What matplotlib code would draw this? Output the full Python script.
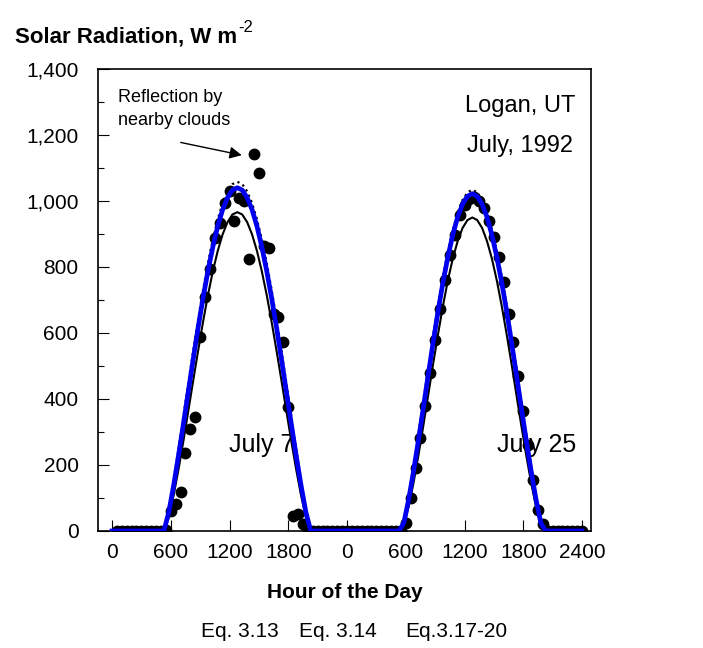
import matplotlib
matplotlib.use('Agg')
import matplotlib.pyplot as plt
from matplotlib.ticker import FuncFormatter, MultipleLocator

plt.rcParams['font.family'] = ['Liberation Sans', 'DejaVu Sans']

# measured radiation, half-hourly (hour of day x 100)
OBS_T = [50, 100, 150, 200, 250, 300, 350, 400, 450, 500,
         550, 600, 650, 700, 750, 800, 850, 900, 950, 1000,
         1050, 1100, 1150, 1200, 1250, 1300, 1350, 1400, 1450, 1500,
         1550, 1600, 1650, 1700, 1750, 1800, 1850, 1900, 1950, 2000,
         2050, 2100, 2150, 2200, 2250, 2300, 2350, 2400]
OBS_JUL7 = [0, 0, 0, 0, 0, 0, 0, 0, 0, 0,
            3, 62, 82, 118, 235, 310, 345, 587, 709, 794,
            888, 932, 994, 1030, 940, 1010, 1001, 824, 1142, 1085,
            862, 856, 658, 648, 572, 375, 45, 52, 20, 0,
            0, 0, 0, 0, 0, 0, 0, 0]
OBS_JUL25 = [0, 0, 0, 0, 0, 0, 0, 0, 0, 0,
             0, 25, 99, 190, 282, 380, 480, 578, 673, 759,
             835, 898, 956, 989, 1006, 1012, 1000, 980, 940, 890,
             830, 754, 658, 572, 470, 365, 262, 155, 65, 22,
             0, 0, 0, 0, 0, 0, 0, 0]

# model curves
CURVE_T = [0, 530, 580, 630, 680, 730, 780, 830, 880, 930, 980, 1030, 1080, 1130,
           1180, 1230, 1280, 1330, 1380, 1430, 1480, 1530, 1580, 1630, 1680, 1730,
           1780, 1830, 1880, 1930, 1980, 2030, 2400]
EQ313_JUL7 = [0, 0, 41, 109, 188, 274, 365, 457, 547, 634, 715, 787, 849, 899, 936, 959,
              966, 959, 936, 899, 849, 787, 715, 634, 547, 457, 365, 274, 188, 109, 41, 0, 0]
EQ314_JUL7 = [0, 0, 66, 155, 250, 349, 449, 547, 642, 731, 812, 884, 945, 994, 1029, 1051,
              1058, 1051, 1029, 994, 945, 884, 812, 731, 642, 547, 449, 349, 250, 155, 66, 0, 0]
EQ317_JUL7 = [0, 0, 57, 139, 230, 326, 424, 522, 617, 706, 788, 861, 924, 974, 1010, 1033,
              1040, 1033, 1010, 974, 924, 861, 788, 706, 617, 522, 424, 326, 230, 139, 57, 0, 0]
EQ313_JUL25 = [0, 0, 17, 74, 147, 230, 320, 413, 507, 597, 682, 759, 825, 878, 918, 942,
               950, 942, 918, 878, 825, 759, 682, 597, 507, 413, 320, 230, 147, 74, 17, 0, 0]
EQ314_JUL25 = [0, 0, 29, 107, 197, 294, 394, 495, 593, 686, 771, 847, 912, 965, 1003, 1026,
               1034, 1026, 1003, 965, 912, 847, 771, 686, 593, 495, 394, 294, 197, 107, 29, 0, 0]
EQ317_JUL25 = [0, 0, 24, 96, 182, 276, 374, 474, 572, 666, 753, 830, 897, 951, 990, 1014,
               1022, 1014, 990, 951, 897, 830, 753, 666, 572, 474, 374, 276, 182, 96, 24, 0, 0]

DAY_OFFSET = {'July 7': 0, 'July 25': 2400}
XTICK_POS = [0, 600, 1200, 1800, 2400, 3000, 3600, 4200, 4800]
XTICK_LABELS = ['0', '600', '1200', '1800', '0', '600', '1200', '1800', '2400']
LEGEND_LABELS = ['Eq. 3.13', 'Eq. 3.14', 'Eq.3.17-20']

fig = plt.figure(figsize=(7.03, 6.48), dpi=100)
ax = fig.add_axes([0.1394, 0.1806, 0.7013, 0.713])

days = [('July 7', OBS_JUL7, EQ313_JUL7, EQ314_JUL7, EQ317_JUL7),
        ('July 25', OBS_JUL25, EQ313_JUL25, EQ314_JUL25, EQ317_JUL25)]
for name, obs, e13, e14, e17 in days:
    off = DAY_OFFSET[name]
    ax.plot([t + off for t in OBS_T], obs, 'o', color='black', ms=7.5, zorder=2)
    ct = [t + off for t in CURVE_T]
    ax.plot(ct, e13, '-', color='black', lw=1.5, zorder=3)
    ax.plot(ct, e14, ':', color='black', lw=1.6, zorder=4)
    ax.plot(ct, e17, '-', color='#0000ee', lw=3.4, zorder=5)

ax.set_xlim(-143, 4892)
ax.set_ylim(0, 1400)
ax.set_xticks(XTICK_POS)
ax.set_xticklabels(XTICK_LABELS)
ax.set_yticks(range(0, 1401, 200))
ax.yaxis.set_major_formatter(FuncFormatter(lambda v, p: f'{int(v):,}'))
ax.yaxis.set_minor_locator(MultipleLocator(100))
ax.tick_params(axis='both', which='major', direction='in', length=8, width=0.8,
               labelsize=15, top=False, right=False)
ax.tick_params(axis='x', pad=9)
ax.tick_params(axis='y', pad=14)
ax.tick_params(axis='y', which='minor', direction='in', length=4, width=0.8)
for s in ax.spines.values():
    s.set_linewidth(1.2)

ax.set_xlabel('Hour of the Day', fontsize=15, fontweight='bold', labelpad=15)

# title with a plain hyphen in the superscript
title = fig.text(0.021, 0.934, 'Solar Radiation, W m', fontsize=16,
                 fontweight='bold', va='baseline', ha='left')
fig.canvas.draw()
bb = title.get_window_extent(fig.canvas.get_renderer())
fig.text(bb.x1 / fig.bbox.width + 0.002, 0.951, '-2', fontsize=12,
         va='baseline', ha='left')

ax.text(1532, 262, 'July 7', fontsize=18, ha='center', va='center')
ax.text(4340, 262, 'July 25', fontsize=18, ha='center', va='center')
ax.text(4170, 1288, 'Logan, UT', fontsize=17, ha='center', va='center')
ax.text(4170, 1167, 'July, 1992', fontsize=17, ha='center', va='center')
ax.text(61, 1312, 'Reflection by', fontsize=13, ha='left', va='center')
ax.text(61, 1243, 'nearby clouds', fontsize=13, ha='left', va='center')
ax.annotate('', xy=(1353, 1137), xytext=(674, 1179),
            arrowprops=dict(arrowstyle='-|>', mutation_scale=18, lw=1, color='black'))

for x, lab in zip([0.3414, 0.4808, 0.6486], LEGEND_LABELS):
    fig.text(x, 0.0247, lab, fontsize=15, ha='center', va='center')

fig.savefig('out.png', dpi=100)
